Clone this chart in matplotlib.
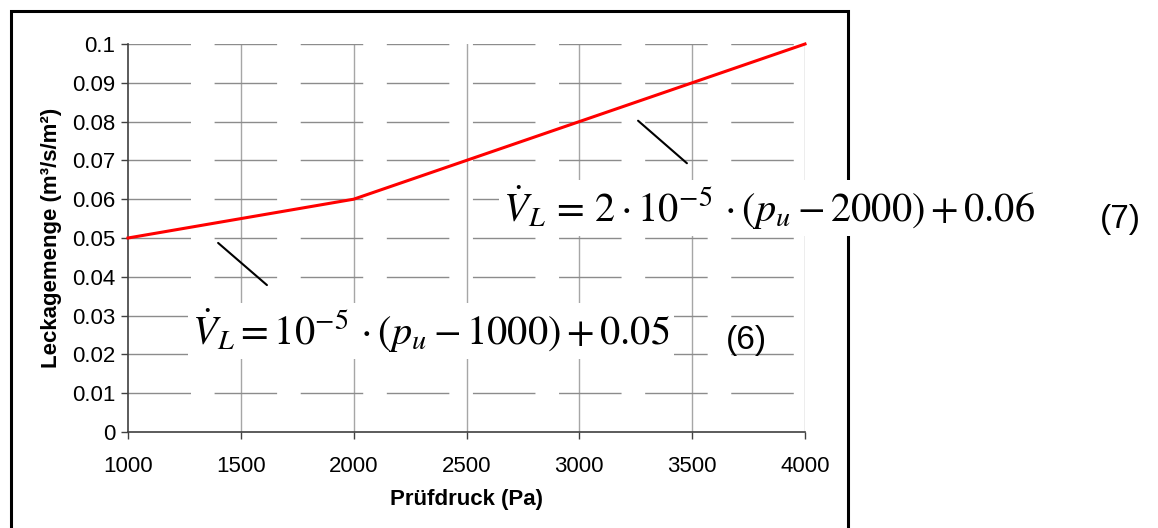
import matplotlib
matplotlib.use('Agg')
import matplotlib.pyplot as plt
from matplotlib.patches import Rectangle

# Daten
druck = [1000, 2000, 4000]
leckage = [0.05, 0.06, 0.1]
x_ticks = [1000, 1500, 2000, 2500, 3000, 3500, 4000]
y_ticks = [0, 0.01, 0.02, 0.03, 0.04, 0.05, 0.06, 0.07, 0.08, 0.09, 0.1]
y_labels = ['0', '0.01', '0.02', '0.03', '0.04', '0.05', '0.06', '0.07', '0.08', '0.09', '0.1']

plt.rcParams['font.family'] = ['Liberation Sans', 'DejaVu Sans']
plt.rcParams['mathtext.fontset'] = 'stix'
plt.rcParams['lines.scale_dashes'] = False

fig = plt.figure(figsize=(11.58, 5.28), dpi=100)
ax = fig.add_axes([128 / 1158, 96 / 528, 677 / 1158, 388 / 528])

# Gitter
for xt in x_ticks[1:]:
    ax.axvline(xt, color='#a6a6a6', lw=1, zorder=1)
for yt in y_ticks[1:]:
    ax.axhline(yt, color='#8c8c8c', lw=1, ls=(0, (45, 17)), zorder=1)

ax.plot(druck, leckage, color='#ff0000', lw=2.2, zorder=3, clip_on=False)

ax.set_xlim(1000, 4000)
ax.set_ylim(0, 0.1)
ax.set_xticks(x_ticks)
ax.set_yticks(y_ticks)
ax.set_yticklabels(y_labels)
ax.tick_params(labelsize=16, length=5, width=1, color='#404040', direction='out', pad=4)
ax.tick_params(axis='x', pad=12)
for s in ['top', 'right']:
    ax.spines[s].set_visible(False)
for s in ['left', 'bottom']:
    ax.spines[s].set_color('#404040')
    ax.spines[s].set_linewidth(1.2)

ax.set_xlabel('Prüfdruck (Pa)', fontsize=16, fontweight='bold', labelpad=9)
ax.set_ylabel('Leckagemenge (m³/s/m²)', fontsize=16, fontweight='bold', labelpad=7)

# Hinweislinien
ax.annotate('', xy=(1390, 0.0492), xytext=(1625, 0.0374),
            arrowprops=dict(arrowstyle='-', color='black', lw=1.5))
ax.annotate('', xy=(3251, 0.0807), xytext=(3486, 0.0688),
            arrowprops=dict(arrowstyle='-', color='black', lw=1.5))

# Rahmen
fig.patches.append(Rectangle((11 / 1158, -0.1), 837 / 1158, 517 / 528 + 0.1,
                             transform=fig.transFigure, fill=False,
                             edgecolor='black', lw=2.2, zorder=1))

# Gleichungen
box = dict(facecolor='white', edgecolor='none', pad=3)
fig.text(503 / 1158, 1 - 222 / 528,
         r'$\dot{V}_L \,=\, 2\cdot 10^{-5}\,\cdot\left(p_u - 2000\right) + 0.06$',
         fontsize=29, va='baseline', ha='left', bbox=box, zorder=5)
fig.text(1100 / 1158, 1 - 228 / 528, '(7)', fontsize=24, va='baseline', zorder=5)
fig.text(192 / 1158, 1 - 345 / 528,
         r'$\dot{V}_L = 10^{-5}\,\cdot\left(p_u - 1000\right) + 0.05$',
         fontsize=29, va='baseline', ha='left', bbox=box, zorder=5)
fig.text(726 / 1158, 1 - 349 / 528, '(6)', fontsize=24, va='baseline', zorder=5)

fig.savefig('out.png', dpi=100)
